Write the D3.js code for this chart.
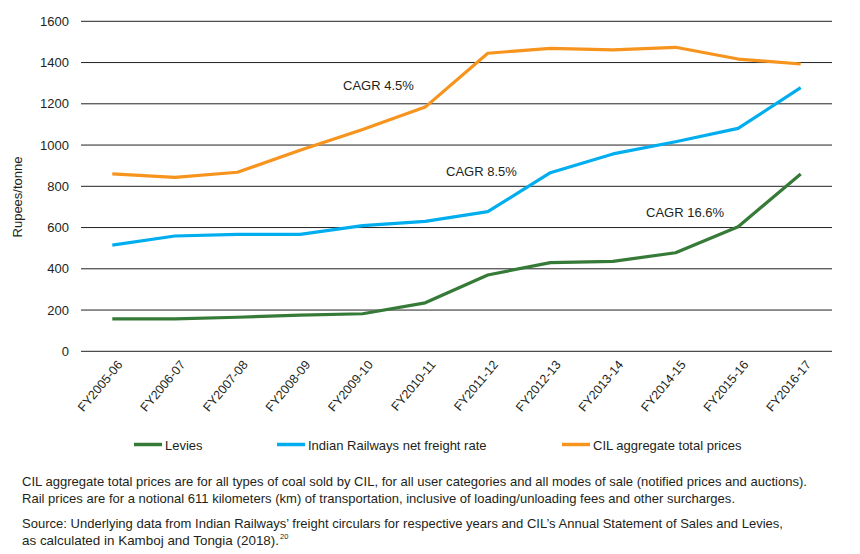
<!DOCTYPE html>
<html>
<head>
<meta charset="utf-8">
<script src="https://cdn.jsdelivr.net/npm/d3@7"></script>
<style>
  body { margin: 0; background: #fff; }
  svg text { font-family: "Liberation Sans", Arial, sans-serif; fill: #231f20; }
</style>
</head>
<body>
<div class="canvas"></div>
<script>
// data
const years = ['FY2005-06','FY2006-07','FY2007-08','FY2008-09','FY2009-10','FY2010-11',
  'FY2011-12','FY2012-13','FY2013-14','FY2014-15','FY2015-16','FY2016-17'];
const levies = [157, 157, 165, 175, 182, 235, 370, 430, 436, 478, 604, 860];
const railFreight = [515, 559, 567, 567, 609, 630, 677, 866, 957, 1016, 1081, 1278];
const cilPrices = [860, 843, 868, 975, 1075, 1184, 1445, 1469, 1461, 1474, 1417, 1393];
const yTicks = [0, 200, 400, 600, 800, 1000, 1200, 1400, 1600];

const seriesNames = ['Levies', 'Indian Railways net freight rate', 'CIL aggregate total prices'];
const seriesColours = ['#367a38', '#00aeef', '#f7941d'];

const cagrNotes = [
  {text: 'CAGR 4.5%', x: 343, y: 90},
  {text: 'CAGR 8.5%', x: 446, y: 176},
  {text: 'CAGR 16.6%', x: 646, y: 217}
];

const notes = [
  {text: 'CIL aggregate total prices are for all types of coal sold by CIL, for all user categories and all modes of sale (notified prices and auctions).', y: 485.5, w: 785},
  {text: 'Rail prices are for a notional 611 kilometers (km) of transportation, inclusive of loading/unloading fees and other surcharges.', y: 502.5, w: 713},
  {text: 'Source: Underlying data from Indian Railways\u2019 freight circulars for respective years and CIL\u2019s Annual Statement of Sales and Levies,', y: 527.5, w: 761},
  {text: 'as calculated in Kamboj and Tongia (2018).', y: 545, w: 257}
];

const dims = {width: 860, height: 554};
const plot = {left: 81, right: 832, top: 21.3, bottom: 351.3};

const svg = d3.select('.canvas')
  .append('svg')
  .attr('width', dims.width)
  .attr('height', dims.height);

const x = d3.scalePoint()
  .domain(years)
  .range([plot.left, plot.right])
  .padding(0.5);

const y = d3.scaleLinear()
  .domain([0, 1600])
  .range([plot.bottom, plot.top]);

// gridlines
svg.append('g')
  .selectAll('line')
  .data(yTicks)
  .enter().append('line')
  .attr('x1', plot.left)
  .attr('x2', plot.right)
  .attr('y1', d => y(d))
  .attr('y2', d => y(d))
  .attr('stroke', '#222')
  .attr('stroke-width', 1);

// y axis labels
svg.append('g')
  .selectAll('text')
  .data(yTicks)
  .enter().append('text')
  .attr('x', 69)
  .attr('y', d => y(d))
  .attr('dy', '0.35em')
  .attr('text-anchor', 'end')
  .attr('font-size', 13)
  .text(d => d);

svg.append('text')
  .attr('transform', 'translate(22, 197) rotate(-90)')
  .attr('text-anchor', 'middle')
  .attr('font-size', 13)
  .text('Rupees/tonne');

// x axis labels
svg.append('g')
  .selectAll('text')
  .data(years)
  .enter().append('text')
  .attr('transform', d => `translate(${x(d) + 11}, 365) rotate(-50)`)
  .attr('text-anchor', 'end')
  .attr('font-size', 12.5)
  .text(d => d);

// lines
const line = d3.line()
  .x((d, i) => x(years[i]))
  .y(d => y(d));

const allSeries = [levies, railFreight, cilPrices];

svg.append('g')
  .selectAll('path')
  .data(allSeries)
  .enter().append('path')
  .attr('d', line)
  .attr('fill', 'none')
  .attr('stroke', (d, i) => seriesColours[i])
  .attr('stroke-width', 3.2)
  .attr('stroke-linejoin', 'round');

// CAGR annotations
svg.append('g')
  .selectAll('text')
  .data(cagrNotes)
  .enter().append('text')
  .attr('x', d => d.x)
  .attr('y', d => d.y)
  .attr('font-size', 13)
  .text(d => d.text);

// legend
const legendX = [134, 277, 562];
const legend = svg.append('g');
seriesNames.forEach((name, i) => {
  legend.append('line')
    .attr('x1', legendX[i])
    .attr('x2', legendX[i] + 28)
    .attr('y1', 444.5)
    .attr('y2', 444.5)
    .attr('stroke', seriesColours[i])
    .attr('stroke-width', 3.5);
  legend.append('text')
    .attr('x', legendX[i] + 31)
    .attr('y', 449.5)
    .attr('font-size', 13)
    .text(name);
});

// footnotes
svg.append('g')
  .selectAll('text')
  .data(notes)
  .enter().append('text')
  .attr('x', 22)
  .attr('y', d => d.y)
  .attr('font-size', 13)
  .attr('textLength', d => d.w)
  .attr('lengthAdjust', 'spacingAndGlyphs')
  .text(d => d.text);

svg.append('text')
  .attr('x', 280)
  .attr('y', 539)
  .attr('font-size', 7.5)
  .text('20');
</script>
</body>
</html>
